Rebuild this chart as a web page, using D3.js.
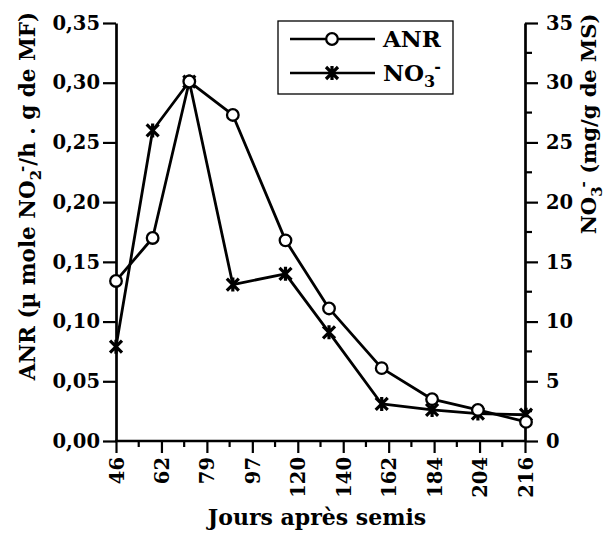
<!DOCTYPE html>
<html>
<head>
<meta charset="utf-8">
<style>
	body { margin: 0; background: #fff; }
	svg text { font-family: "DejaVu Serif", serif; font-weight: bold; fill: #000; }
</style>
</head>
<body>
<svg id="chart" width="607" height="533"></svg>
<script src="https://d3js.org/d3.v7.min.js"></script>
<script>
	var dayLabels = ["46", "62", "79", "97", "120", "140", "162", "184", "204", "216"];
	// position of each sample on the day axis as drawn in the figure (last one sits on the right edge)
	var sampleDays = [46, 62, 78, 97, 120, 139, 162, 184, 204, 225];
	var anr = [0.134, 0.170, 0.301, 0.273, 0.168, 0.111, 0.061, 0.035, 0.026, 0.016];
	var no3 = [7.9, 26.0, 30.1, 13.1, 14.0, 9.1, 3.1, 2.6, 2.3, 2.2];
	var anrTicks = [0, 0.05, 0.10, 0.15, 0.20, 0.25, 0.30, 0.35];
	var no3Ticks = [0, 5, 10, 15, 20, 25, 30, 35];
	var no3Minor = [2.5, 7.5, 12.5, 17.5, 22.5, 27.5, 32.5];

	var x0 = 116, x1 = 525, y0 = 441, y1 = 23;
	var svg = d3.select("#chart");

	var xTick = d3.scalePoint().domain(dayLabels).range([x0, x1]);
	var xPos = d3.scaleLinear().domain([46, 225]).range([x0, x1 + 1]);
	var yL = d3.scaleLinear().domain([0, 0.35]).range([y0, y1]);
	var yR = d3.scaleLinear().domain([0, 35]).range([y0, y1]);

	function styleAxis(g){
		g.attr("font-family", null).attr("font-size", null);
		g.select(".domain").attr("stroke-width", 2.7);
		g.selectAll(".tick line").attr("stroke-width", 2.2);
		g.selectAll(".tick text").style("font-size", "19.5px");
	}

	// x axis
	var gx = svg.append("g").attr("transform", "translate(0," + y0 + ")")
		.call(d3.axisBottom(xTick).tickSize(12).tickSizeOuter(0).tickPadding(4));
	styleAxis(gx);
	gx.select(".domain").attr("d", "M" + (x0 - 1) + ",0H" + (x1 + 1));
	gx.selectAll(".tick text")
		.attr("transform", "rotate(-90)")
		.attr("x", -16).attr("y", 0).attr("dy", "0.36em")
		.attr("text-anchor", "end");
	var mids = d3.pairs(dayLabels).map(function(p){ return (xTick(p[0]) + xTick(p[1])) / 2; });
	gx.selectAll(".minor").data(mids).enter().append("line")
		.attr("x1", function(d){ return d; }).attr("x2", function(d){ return d; })
		.attr("y1", 0).attr("y2", 6).attr("stroke", "#000").attr("stroke-width", 2.2);

	// left axis
	var gl = svg.append("g").attr("transform", "translate(" + x0 + ",0)")
		.call(d3.axisLeft(yL).tickValues(anrTicks).tickSize(13).tickSizeOuter(0).tickPadding(3)
			.tickFormat(function(d){ return d3.format(".2f")(d).replace(".", ","); }));
	styleAxis(gl);

	// right axis
	var gr = svg.append("g").attr("transform", "translate(" + x1 + ",0)")
		.call(d3.axisRight(yR).tickValues(no3Ticks).tickSize(13).tickSizeOuter(0).tickPadding(8));
	styleAxis(gr);
	gr.selectAll(".minor").data(no3Minor).enter().append("line")
		.attr("x1", 0).attr("x2", 7)
		.attr("y1", function(d){ return yR(d); }).attr("y2", function(d){ return yR(d); })
		.attr("stroke", "#000").attr("stroke-width", 2.2);

	// series
	var lineAnr = d3.line().x(function(d, i){ return xPos(sampleDays[i]); }).y(function(d){ return yL(d); });
	var lineNo3 = d3.line().x(function(d, i){ return xPos(sampleDays[i]); }).y(function(d){ return yR(d); });

	svg.append("path").datum(no3).attr("d", lineNo3)
		.attr("fill", "none").attr("stroke", "#000").attr("stroke-width", 2.8).attr("stroke-linejoin", "round");
	svg.append("path").datum(anr).attr("d", lineAnr)
		.attr("fill", "none").attr("stroke", "#000").attr("stroke-width", 2.8).attr("stroke-linejoin", "round");

	function starPath(cx, cy){
		var a = 6, v = 7;
		return "M" + (cx - a) + "," + (cy - a) + "L" + (cx + a) + "," + (cy + a) +
			"M" + (cx - a) + "," + (cy + a) + "L" + (cx + a) + "," + (cy - a) +
			"M" + cx + "," + (cy - v) + "L" + cx + "," + (cy + v);
	}

	svg.selectAll(".star").data(no3).enter().append("path")
		.attr("d", function(d, i){ return starPath(xPos(sampleDays[i]), yR(d)); })
		.attr("stroke", "#000").attr("stroke-width", 3.2).attr("fill", "none");
	svg.selectAll(".dot").data(anr).enter().append("circle")
		.attr("cx", function(d, i){ return xPos(sampleDays[i]); })
		.attr("cy", function(d){ return yL(d); })
		.attr("r", 5.8).attr("fill", "#fff").attr("stroke", "#000").attr("stroke-width", 2.3);

	// axis titles
	var tl = svg.append("text").attr("transform", "translate(35,196) rotate(-90)")
		.attr("text-anchor", "middle").style("font-size", "21.5px");
	tl.append("tspan").text("ANR (\u00b5 mole NO");
	tl.append("tspan").attr("dy", 6).style("font-size", "15px").text("2");
	tl.append("tspan").attr("dy", -14).attr("dx", -2).style("font-size", "15px").text("-");
	tl.append("tspan").attr("dy", 8).text("/h . g de MF)");

	var tr = svg.append("text").attr("transform", "translate(596,124) rotate(-90)")
		.attr("text-anchor", "middle").style("font-size", "21px");
	tr.append("tspan").text("NO");
	tr.append("tspan").attr("dy", 6).style("font-size", "15px").text("3");
	tr.append("tspan").attr("dy", -14).attr("dx", -1).style("font-size", "15px").text("-");
	tr.append("tspan").attr("dy", 8).text(" (mg/g de MS)");

	svg.append("text").attr("x", 317).attr("y", 525).attr("text-anchor", "middle")
		.style("font-size", "22px").text("Jours apr\u00e8s semis");

	// legend
	var lg = svg.append("g");
	lg.append("rect").attr("x", 278).attr("y", 21).attr("width", 175).attr("height", 73)
		.attr("fill", "#fff").attr("stroke", "#000").attr("stroke-width", 1.3);
	lg.append("line").attr("x1", 290).attr("x2", 375).attr("y1", 39).attr("y2", 39)
		.attr("stroke", "#000").attr("stroke-width", 2.3);
	lg.append("circle").attr("cx", 332).attr("cy", 39).attr("r", 5.8)
		.attr("fill", "#fff").attr("stroke", "#000").attr("stroke-width", 2.3);
	lg.append("text").attr("x", 383).attr("y", 47).style("font-size", "23px").text("ANR");
	lg.append("line").attr("x1", 290).attr("x2", 375).attr("y1", 73).attr("y2", 73)
		.attr("stroke", "#000").attr("stroke-width", 2.3);
	lg.append("path").attr("d", starPath(332, 73)).attr("stroke", "#000").attr("stroke-width", 3.2);
	var ln = lg.append("text").attr("x", 383).attr("y", 81).style("font-size", "23px");
	ln.append("tspan").text("NO");
	ln.append("tspan").attr("dy", 6).style("font-size", "16px").text("3");
	ln.append("tspan").attr("dy", -15).attr("dx", -1).style("font-size", "16px").text("-");
</script>
</body>
</html>
